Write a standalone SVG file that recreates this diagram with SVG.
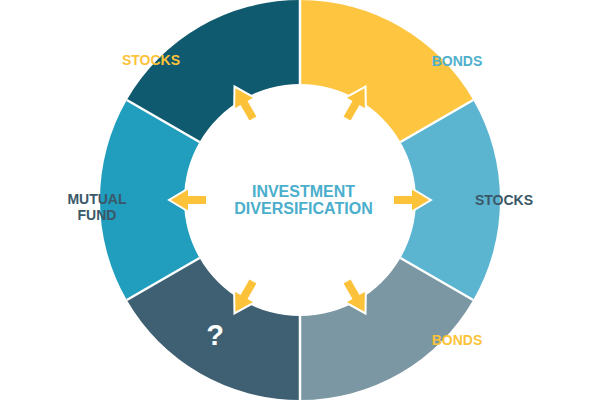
<svg xmlns="http://www.w3.org/2000/svg" width="600" height="401" viewBox="0 0 600 401">
  <style>
    .sep { stroke: #ffffff; stroke-width: 2.5; }
    .lbl { font-family: "Liberation Sans", Arial, sans-serif; font-weight: bold; font-size: 14px; text-anchor: middle; }
    .title { font-family: "Liberation Sans", Arial, sans-serif; font-weight: bold; font-size: 16px; text-anchor: middle; fill: #4aaecc; }
  </style>
  <defs>
    <polygon id="arrow" points="0,0 -20,-12 -20,-5 -38,-5 -38,5 -20,5 -20,12" fill="#fcc33a" stroke="#ffffff" stroke-width="2" stroke-linejoin="miter"/>
  </defs>
  <rect width="600" height="401" fill="#ffffff"/>
  <g id="seg-bonds-top">
    <path d="M300,0 A200,200 0 0 1 473.2,100 L400.46,142 A116,116 0 0 0 300,84 Z" fill="#fdc540"/>
    <text class="lbl" x="457" y="66" fill="#4fb0cc">BONDS</text>
  </g>
  <g id="seg-stocks-right">
    <path d="M473.2,100 A200,200 0 0 1 473.2,300 L400.46,258 A116,116 0 0 0 400.46,142 Z" fill="#5bb4d0"/>
    <text class="lbl" x="504" y="205" fill="#3a5868">STOCKS</text>
  </g>
  <g id="seg-bonds-bottom">
    <path d="M473.2,300 A200,200 0 0 1 300,400 L300,316 A116,116 0 0 0 400.46,258 Z" fill="#7c97a4"/>
    <text class="lbl" x="457" y="345" fill="#fcc33a">BONDS</text>
  </g>
  <g id="seg-unknown">
    <path d="M300,400 A200,200 0 0 1 126.8,300 L199.54,258 A116,116 0 0 0 300,316 Z" fill="#3e6072"/>
    <text x="215" y="345" font-family="Liberation Sans, Arial, sans-serif" font-weight="bold" font-size="29" text-anchor="middle" fill="#ffffff">?</text>
  </g>
  <g id="seg-mutual-fund">
    <path d="M126.8,300 A200,200 0 0 1 126.8,100 L199.54,142 A116,116 0 0 0 199.54,258 Z" fill="#219dbd"/>
    <text class="lbl" x="97" y="204" fill="#3a5868">MUTUAL</text>
    <text class="lbl" x="97" y="220" fill="#3a5868">FUND</text>
  </g>
  <g id="seg-stocks-top">
    <path d="M126.8,100 A200,200 0 0 1 300,0 L300,84 A116,116 0 0 0 199.54,142 Z" fill="#0f5a6e"/>
    <text class="lbl" x="151" y="65" fill="#fcc33a">STOCKS</text>
  </g>
  <g id="connectors">
    <line class="sep" x1="300" y1="0" x2="300" y2="84"/>
    <line class="sep" x1="473.2" y1="100" x2="400.46" y2="142"/>
    <line class="sep" x1="473.2" y1="300" x2="400.46" y2="258"/>
    <line class="sep" x1="300" y1="400" x2="300" y2="316"/>
    <line class="sep" x1="126.8" y1="300" x2="199.54" y2="258"/>
    <line class="sep" x1="126.8" y1="100" x2="199.54" y2="142"/>
    <use href="#arrow" transform="translate(300 200) rotate(-120) translate(131 0)"/>
    <use href="#arrow" transform="translate(300 200) rotate(-60) translate(131 0)"/>
    <use href="#arrow" transform="translate(300 200) rotate(0) translate(131 0)"/>
    <use href="#arrow" transform="translate(300 200) rotate(60) translate(131 0)"/>
    <use href="#arrow" transform="translate(300 200) rotate(120) translate(131 0)"/>
    <use href="#arrow" transform="translate(300 200) rotate(180) translate(131 0)"/>
  </g>
  <g id="center">
    <text class="title" x="303.5" y="197">INVESTMENT</text>
    <text class="title" x="303.5" y="214">DIVERSIFICATION</text>
  </g>
</svg>
